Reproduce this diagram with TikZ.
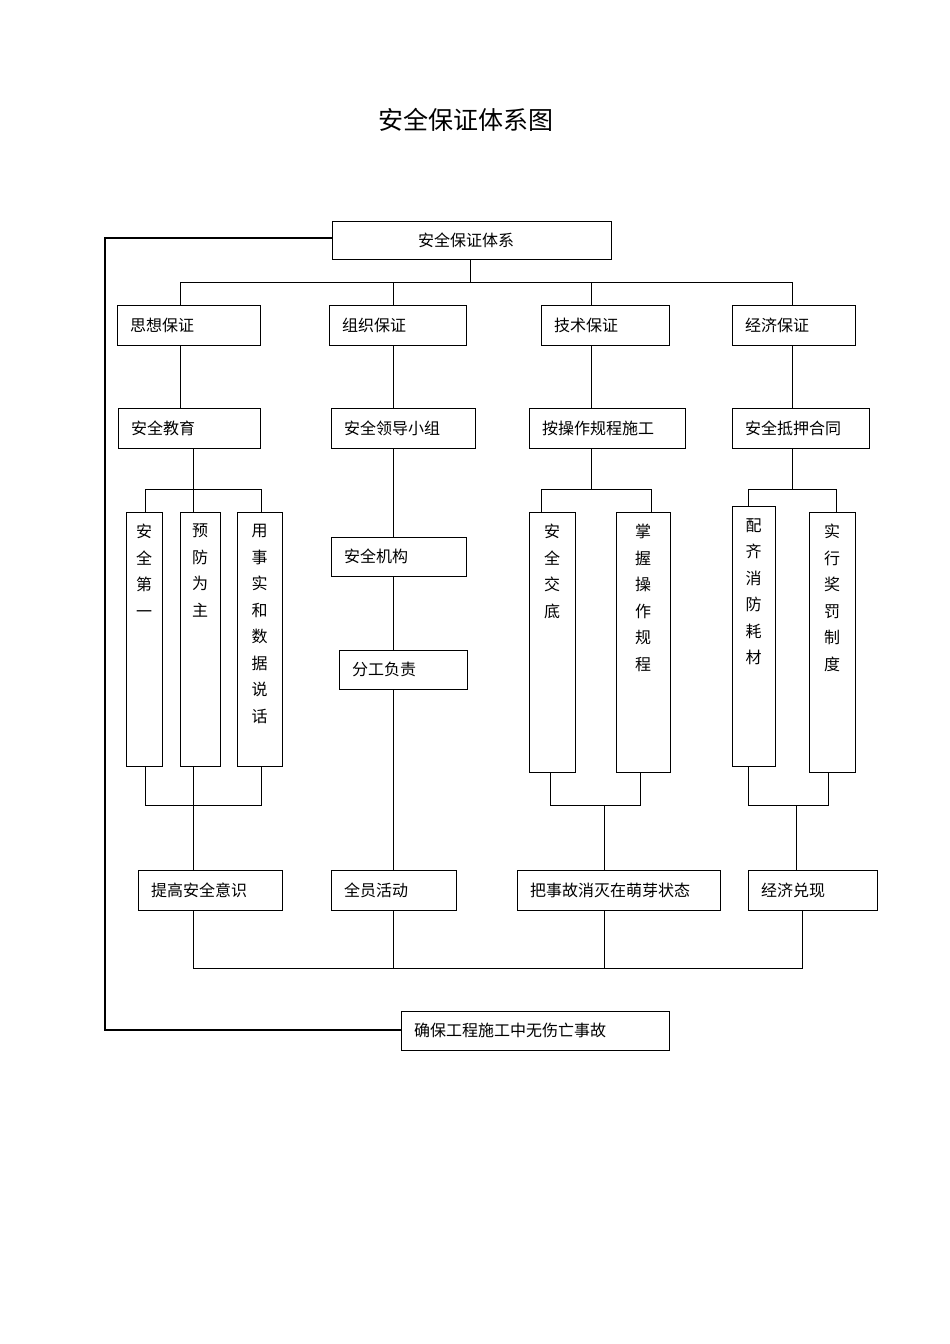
\documentclass[tikz,border=0pt]{standalone}
\usepackage{fontspec}
\setmainfont{Noto Sans CJK SC}
\newcommand\hb[6]{\node[bx,minimum width={#3-#1},minimum height={#4-#2}] (#5) at (#1,#2) {};
  \node[anchor=west,font=\fontsize{16}{16}\selectfont,inner sep=0pt] at ({#1+13},{(#2+#4)/2}) {#6};}
\newcommand\vb[6]{\node[bx,minimum width={#3-#1},minimum height={#4-#2}] (#5) at (#1,#2) {};
  \node[anchor=north,align=center,font=\fontsize{16}{26.5}\selectfont,inner sep=0pt] at ({(#1+#3)/2},{#2+12}) {#6};}
\begin{document}
\begin{tikzpicture}[x=1pt,y=-1pt,
  bx/.style={draw,line width=0.8pt,anchor=north west,inner sep=0pt},
  ln/.style={line width=0.8pt}]
\useasboundingbox (0,0) rectangle (950,1344);
\node (title) at (466,120) {\fontsize{25}{25}\selectfont 安全保证体系图};
\hb{332}{221}{611}{259}{top}{\hspace{73pt}安全保证体系}
\hb{117}{305}{260}{345}{a1}{思想保证}
\hb{329}{305}{466}{345}{b1}{组织保证}
\hb{541}{305}{669}{345}{c1}{技术保证}
\hb{732}{305}{855}{345}{d1}{经济保证}
\hb{118}{408}{260}{448}{a2}{安全教育}
\hb{331}{408}{475}{448}{b2}{安全领导小组}
\hb{529}{408}{685}{448}{c2}{按操作规程施工}
\hb{732}{408}{869}{448}{d2}{安全抵押合同}
\vb{126}{512}{162}{766}{a3}{安\\全\\第\\一}
\vb{180}{512}{220}{766}{a4}{预\\防\\为\\主}
\vb{237}{512}{282}{766}{a5}{用\\事\\实\\和\\数\\据\\说\\话}
\hb{331}{537}{466}{576}{b3}{安全机构}
\hb{339}{650}{467}{689}{b4}{分工负责}
\vb{529}{512}{575}{772}{c3}{安\\全\\交\\底}
\vb{616}{512}{670}{772}{c4}{掌\\握\\操\\作\\规\\程}
\vb{732}{506}{775}{766}{d3}{配\\齐\\消\\防\\耗\\材}
\vb{809}{512}{855}{772}{d4}{实\\行\\奖\\罚\\制\\度}
\hb{138}{870}{282}{910}{a6}{提高安全意识}
\hb{331}{870}{456}{910}{b6}{全员活动}
\hb{517}{870}{720}{910}{c6}{把事故消灭在萌芽状态}
\hb{748}{870}{877}{910}{d6}{经济兑现}
\hb{401}{1011}{669}{1050}{fin}{确保工程施工中无伤亡事故}
% top tree
\draw[ln] (470,259) -- (470,282);
\draw[ln] (180,305) -- (180,282) -- (792,282) -- (792,305);
\draw[ln] (393,282) -- (393,305);
\draw[ln] (591,282) -- (591,305);
\draw[ln] (180,345) -- (180,408);
\draw[ln] (393,345) -- (393,408);
\draw[ln] (591,345) -- (591,408);
\draw[ln] (792,345) -- (792,408);
% column a
\draw[ln] (193,448) -- (193,489);
\draw[ln] (145,512) -- (145,489) -- (261,489) -- (261,512);
\draw[ln] (193,489) -- (193,512);
\draw[ln] (145,766) -- (145,805) -- (261,805) -- (261,766);
\draw[ln] (193,766) -- (193,870);
% column b
\draw[ln] (393,448) -- (393,537);
\draw[ln] (393,576) -- (393,650);
\draw[ln] (393,689) -- (393,870);
% column c
\draw[ln] (591,448) -- (591,489);
\draw[ln] (541,512) -- (541,489) -- (651,489) -- (651,512);
\draw[ln] (550,772) -- (550,805) -- (640,805) -- (640,772);
\draw[ln] (604,805) -- (604,870);
% column d
\draw[ln] (792,448) -- (792,489);
\draw[ln] (748,506) -- (748,489) -- (836,489) -- (836,512);
\draw[ln] (748,766) -- (748,805) -- (828,805) -- (828,772);
\draw[ln] (796,805) -- (796,870);
% bottom bus
\draw[ln] (193,910) -- (193,968) -- (802,968) -- (802,910);
\draw[ln] (393,910) -- (393,968);
\draw[ln] (604,910) -- (604,968);
% loop
\draw[line width=1.4pt] (332,238) -- (105,238) -- (105,1030) -- (401,1030);
\end{tikzpicture}
\end{document}
